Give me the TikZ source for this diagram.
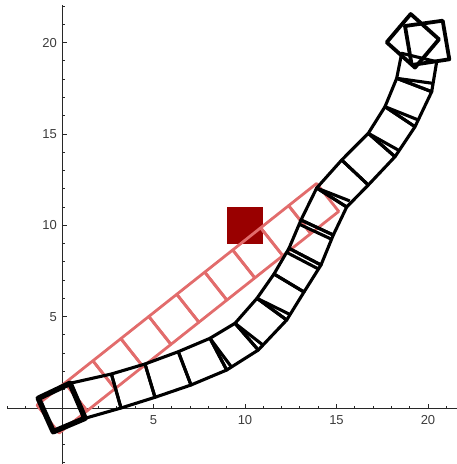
\documentclass[tikz,border=0pt]{standalone}
\usepackage{fontspec}
\setmainfont{Liberation Sans}
\usetikzlibrary{calc}
\definecolor{redc}{RGB}{226,108,108}
\definecolor{tgt}{RGB}{153,0,0}
\definecolor{axc}{RGB}{40,40,40}
\definecolor{labc}{RGB}{60,60,60}
\begin{document}
\begin{tikzpicture}[x=1pt,y=-1pt,
  blk/.style={line width=3.1pt, line join=round, black},
  end blk/.style={line width=3.8pt, line join=round, black},
  thick blk/.style={line width=5.5pt, line join=round, black},
  redl/.style={line width=2.8pt, color=redc, line join=round},
  axisline/.style={line width=0.9pt, color=axc},
  lab/.style={font=\fontsize{13}{13}\selectfont, text=labc, inner sep=0pt}]
\useasboundingbox (0,0) rectangle (457,464);
% axes
\draw[axisline] (7,408) -- (457,408);
\draw[axisline] (62,464) -- (62,5);
\foreach \k in {-3,...,21} \draw[axisline] ({62+18.3*\k},408) -- ++(0,-2.5);
\foreach \k in {-3,...,22} \draw[axisline] (62,{408-18.27*\k}) -- ++(2.5,0);
\foreach \k in {5,10,15,20} {
  \draw[axisline] ({62+18.3*\k},408) -- ++(0,-4.5);
  \node[lab,anchor=north] (xl\k) at ({62+18.3*\k},415) {\k};
  \draw[axisline] (62,{408-18.27*\k}) -- ++(4.5,0);
  \node[lab,anchor=east] (yl\k) at (57,{408-18.27*\k}) {\k};
}
% red straight chain and target
\begin{scope}[shift={(62,408)}, x=18.3pt, y=18.27pt]
  \fill[tgt] (9,9) rectangle (11,11);
  \begin{scope}[rotate=38.4]
    \foreach \i in {0,...,9}
      \draw[redl] ({\i*1.95-0.975},-0.975) -- ++(1.95,0) -- ++(0,1.95) -- ++(-1.95,0) -- cycle;
  \end{scope}
\end{scope}
% black chain rungs (upper / lower)
\coordinate (u0) at (70,383.3);   \coordinate (l0) at (85,418.3);
\coordinate (u1) at (111.4,374);  \coordinate (l1) at (121,408);
\coordinate (u2) at (145,364);    \coordinate (l2) at (155,397.3);
\coordinate (u3) at (178.3,351.7);\coordinate (l3) at (191,385);
\coordinate (u4) at (210,338.3);  \coordinate (l4) at (226.7,370);
\coordinate (u5) at (235,323.3);  \coordinate (l5) at (258.3,350);
\coordinate (u6) at (257,298.3);  \coordinate (l6) at (286.7,320);
\coordinate (u7) at (274,274);    \coordinate (l7) at (304,292);
\coordinate (u8) at (289,248.3);  \coordinate (l8) at (321,265);
\coordinate (u9) at (301,220);    \coordinate (l9) at (333.3,235);
\coordinate (u10) at (316.7,188); \coordinate (l10) at (346.7,207);
\coordinate (u11) at (341.7,160); \coordinate (l11) at (368.3,185);
\coordinate (u12) at (368.3,133.3);\coordinate (l12) at (395,156.7);
\coordinate (u13) at (385,106.7); \coordinate (l13) at (415,126.7);
\coordinate (u14) at (396.7,78.3);\coordinate (l14) at (431.7,91.7);
\coordinate (u15) at (401.7,53.3);\coordinate (l15) at (436.7,61.7);
\foreach \i [evaluate=\i as \j using int(\i+1)] in {0,...,14}
  \draw[blk] (u\i) -- (u\j) -- (l\j) -- (l\i) -- cycle;
% wedges / double rungs at joints
\draw[blk] (u4) -- ($(u4)!1!9:(l4)$);
\draw[blk] (u5) -- ($(u5)!1!11:(l5)$);
\draw[blk] (u6) -- ($(u6)!1!10:(l6)$);
\draw[blk] ($(u8)+(-2.5,4)$) -- ($(l8)+(-2.5,4)$);
\draw[blk] ($(u9)+(-1.8,4.2)$) -- ($(l9)+(-1.8,4.2)$);
\draw[blk] (u10) -- ($(u10)!1!11:(l10)$);
\draw[blk] (u12) -- ($(u12)!1!12:(l12)$);
\draw[blk] (u13) -- ($(u13)!1!12:(l13)$);
\draw[blk] (u14) -- ($(u14)!1!13:(l14)$);
% base
\draw[thick blk] (38.3,398.3) -- (70,383.3) -- (85,418.3) -- (53.3,431.7) -- cycle;
% end squares
\draw[end blk] (405,26) -- (442.7,20.7) -- (449.3,59.3) -- (411.7,65) -- cycle;
\draw[end blk] (410.7,14) -- (439,39.3) -- (415,67.6) -- (386.7,42.3) -- cycle;
\end{tikzpicture}
\end{document}
